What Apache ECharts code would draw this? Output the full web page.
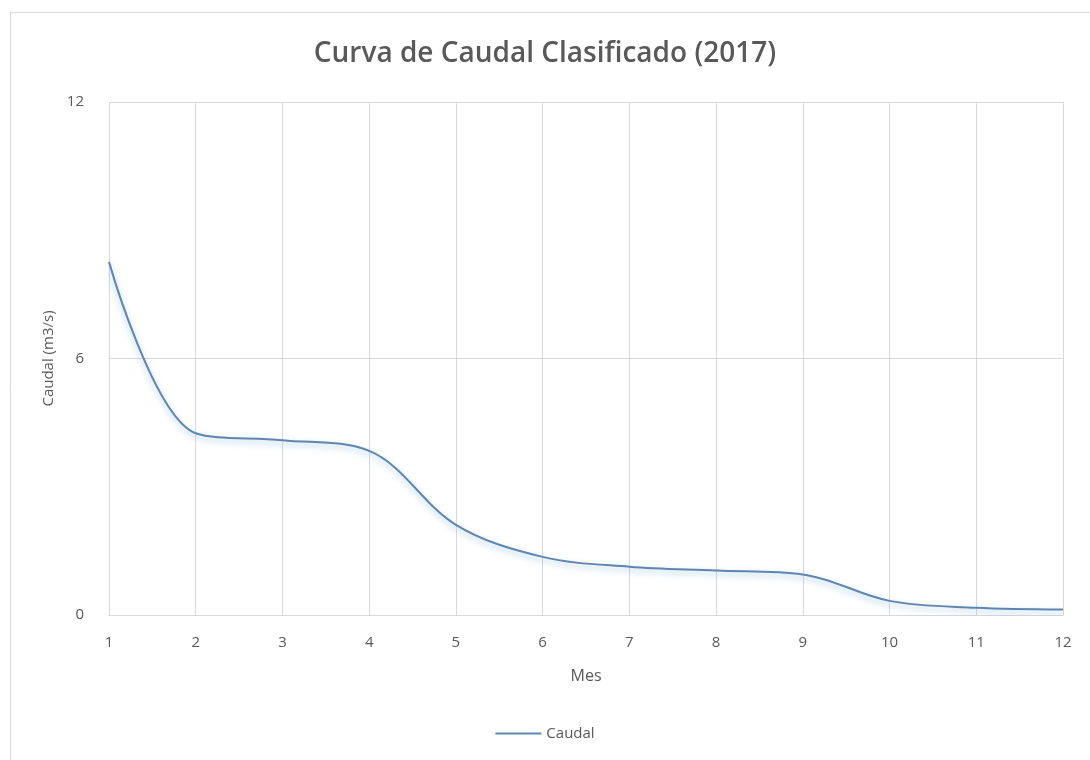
<!DOCTYPE html>
<html>
<head>
<meta charset="utf-8">
<style>
  html, body { margin: 0; padding: 0; background: #ffffff; }
  #chart { width: 1090px; height: 760px; }
</style>
<script src="https://cdn.jsdelivr.net/npm/echarts@6/dist/echarts.min.js"></script>
</head>
<body>
<div id="chart"></div>
<script>
// Months along the x axis
const meses = ['1', '2', '3', '4', '5', '6', '7', '8', '9', '10', '11', '12'];
// Classified flow (m3/s), 2017
const caudal = [8.26, 4.25, 4.09, 3.84, 2.11, 1.36, 1.13, 1.04, 0.95, 0.33, 0.17, 0.13];
// Y axis range and step
const yMin = 0;
const yMax = 12;
const yStep = 6;

const chart = echarts.init(document.getElementById('chart'), null, { renderer: 'canvas' });
const font = "'Open Sans', 'Noto Sans', sans-serif";
const textGray = '#595959';

chart.setOption({
  backgroundColor: '#ffffff',
  animation: false,
  textStyle: { fontFamily: font },
  graphic: [
    // chart frame (top and left edges)
    { type: 'line', shape: { x1: 10.5, y1: 12.5, x2: 1090, y2: 12.5 }, style: { stroke: '#d9d9d9', lineWidth: 1 } },
    { type: 'line', shape: { x1: 10.5, y1: 12.5, x2: 10.5, y2: 760 }, style: { stroke: '#d9d9d9', lineWidth: 1 } }
  ],
  title: {
    text: 'Curva de Caudal Clasificado (2017)',
    left: 'center',
    top: 35,
    textStyle: { fontFamily: font, fontSize: 28, fontWeight: 600, color: textGray }
  },
  grid: { left: 109, right: 27, top: 102, bottom: 145, containLabel: false },
  legend: {
    bottom: 14,
    left: 'center',
    itemWidth: 46,
    itemHeight: 2,
    icon: 'rect',
    itemGap: 4,
    textStyle: { fontFamily: font, fontSize: 15, color: textGray },
    data: ['Caudal']
  },
  xAxis: {
    type: 'category',
    data: meses,
    boundaryGap: false,
    name: 'Mes',
    nameLocation: 'middle',
    nameGap: 53,
    nameTextStyle: { fontFamily: font, fontSize: 16, color: textGray },
    axisLine: { show: true, lineStyle: { color: '#d9d9d9', width: 1 } },
    axisTick: { show: false },
    axisLabel: { color: textGray, fontSize: 15, margin: 20, fontFamily: font },
    splitLine: { show: true, lineStyle: { color: '#d9d9d9', width: 1 } }
  },
  yAxis: {
    type: 'value',
    min: yMin,
    max: yMax,
    interval: yStep,
    name: 'Caudal (m3/s)',
    nameLocation: 'middle',
    nameGap: 44,
    nameRotate: 90,
    nameTextStyle: { fontFamily: font, fontSize: 15, color: textGray },
    axisLine: { show: false },
    axisTick: { show: false },
    axisLabel: { color: textGray, fontSize: 15, margin: 25, fontFamily: font },
    splitLine: { show: true, lineStyle: { color: '#d9d9d9', width: 1 } }
  },
  series: [{
    name: 'Caudal',
    type: 'line',
    data: caudal,
    smooth: 0.35,
    symbol: 'none',
    lineStyle: {
      color: '#5f86b0',
      width: 2,
      shadowColor: 'rgba(91, 155, 213, 0.55)',
      shadowBlur: 6,
      shadowOffsetY: 3
    },
    itemStyle: { color: '#5f86b0' }
  }]
});
</script>
</body>
</html>
